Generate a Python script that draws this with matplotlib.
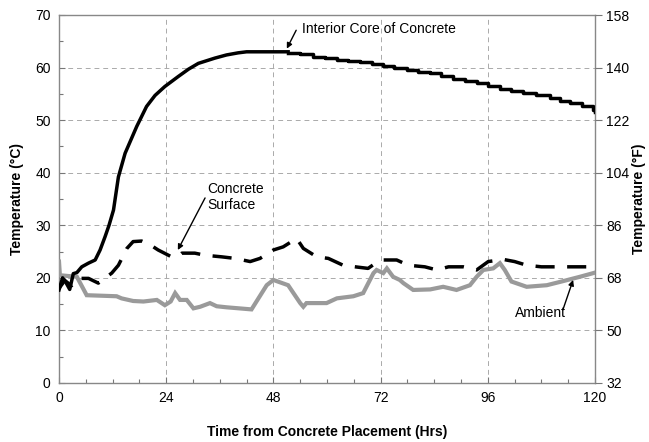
import matplotlib
matplotlib.use("Agg")
import matplotlib.pyplot as plt
from matplotlib.ticker import MultipleLocator

plt.rcParams['font.family'] = ['Liberation Sans', 'DejaVu Sans']

# ---- data ----
core_rise_hours = [0, 0.8, 1.5, 2.4, 3.2, 4.0, 5.1, 6.6, 8.1, 9.2, 10.3, 11.2, 12.2,
                   13.3, 14.8, 17.4, 19.6, 21.5, 23.7, 26.7, 29.0, 31.2, 34.9, 37.5,
                   40.1, 42.0, 51.3]
core_rise_temp = [17.7, 20.0, 19.2, 17.8, 20.8, 21.0, 22.1, 22.8, 23.4, 25.3, 27.8, 30.0,
                  32.9, 39.2, 43.7, 48.8, 52.6, 54.7, 56.4, 58.3, 59.7, 60.8, 61.8, 62.4,
                  62.8, 63.0, 63.0]
core_step_hours = [51.3, 54.0, 56.9, 59.5, 62.2, 64.8, 67.4, 70.0, 72.5, 75.0, 77.8, 80.4,
                   83.0, 85.6, 88.2, 90.8, 93.5, 96.0, 98.7, 101.3, 103.9, 106.8, 110.0,
                   112.2, 114.4, 117.0, 119.5, 120.0]
core_step_temp = [62.8, 62.5, 62.1, 61.8, 61.4, 61.2, 61.0, 60.6, 60.3, 59.9, 59.5, 59.2,
                  58.9, 58.4, 57.9, 57.5, 57.0, 56.5, 56.0, 55.6, 55.1, 54.7, 54.2,
                  53.7, 53.2, 52.6, 51.9, 51.6]

surf_hours = [0, 1.3, 2.8, 4.3, 6.6, 8.8, 11.8, 13.3, 15.2, 16.6, 18.5, 20.4, 22.2, 25.2,
              26.5, 27.5, 30.4, 32.7, 36.4, 39.4, 42.8, 45.0, 48.0, 50.2, 53.2, 54.7, 57.7,
              60.3, 63.6, 66.3, 69.2, 71.9, 75.6, 78.2, 81.9, 84.6, 87.2, 90.5, 93.5, 96.1,
              99.5, 102.0, 104.7, 108.0, 112.0, 114.4, 120.0]
surf_temp = [18.0, 19.5, 18.5, 19.9, 19.9, 19.0, 20.9, 22.4, 25.6, 26.9, 27.0, 26.3, 25.3,
             24.0, 24.0, 24.7, 24.7, 24.3, 24.0, 23.7, 23.1, 23.7, 25.3, 25.9, 27.5, 25.6,
             24.0, 23.7, 22.4, 22.1, 21.8, 23.4, 23.4, 22.4, 22.1, 21.5, 22.1, 22.1, 21.5,
             23.1, 23.5, 23.1, 22.4, 22.1, 22.1, 22.1, 22.1]

amb_hours = [0, 0.2, 4.0, 6.2, 12.9, 14.0, 16.6, 18.9, 21.9, 23.7, 25.0, 26.0, 27.1, 28.6,
             30.1, 31.6, 33.8, 35.3, 37.5, 43.1, 46.5, 48.0, 51.3, 54.0, 54.7, 55.4, 59.9,
             62.2, 65.9, 68.1, 70.4, 71.1, 72.6, 73.4, 74.8, 76.3, 77.1, 79.3, 83.1, 86.0,
             89.0, 92.0, 93.5, 95.0, 97.2, 98.7, 99.8, 101.3, 104.7, 109.2, 112.5, 116.6,
             119.6, 120.0]
amb_temp = [23.1, 20.5, 20.2, 16.7, 16.5, 16.1, 15.6, 15.5, 15.8, 14.8, 15.5, 17.1, 15.8,
            15.8, 14.2, 14.5, 15.2, 14.6, 14.4, 14.0, 18.6, 19.6, 18.6, 15.2, 14.5, 15.2,
            15.2, 16.1, 16.5, 17.1, 20.9, 21.5, 20.9, 21.8, 20.2, 19.6, 19.0, 17.7, 17.8,
            18.3, 17.7, 18.6, 20.2, 21.5, 21.8, 22.8, 21.5, 19.3, 18.3, 18.6, 19.3, 20.2,
            20.9, 21.0]

x_ticks = [0, 24, 48, 72, 96, 120]
c_ticks = [0, 10, 20, 30, 40, 50, 60, 70]
f_ticks = [32, 50, 68, 86, 104, 122, 140, 158]

# ---- figure ----
W, H = 649, 442
fig = plt.figure(figsize=(W / 100, H / 100), dpi=100)
ax = fig.add_axes([59 / W, 1 - 383 / H, (595 - 59) / W, (383 - 15) / H])

ax.plot(amb_hours, amb_temp, color='#9a9a9a', lw=3.0, zorder=3, solid_joinstyle='miter')
ax.plot(surf_hours, surf_temp, color='black', lw=2.5, dashes=(5.5, 3.6), zorder=4)
ax.plot(core_rise_hours, core_rise_temp, color='black', lw=2.5, zorder=5)
ax.plot(core_step_hours, core_step_temp, color='black', lw=2.5, drawstyle='steps-post', zorder=5)

ax.set_xlim(0, 120)
ax.set_ylim(0, 70)
ax.set_xticks(x_ticks)
ax.set_yticks(c_ticks)
ax.xaxis.set_minor_locator(MultipleLocator(6))
ax.yaxis.set_minor_locator(MultipleLocator(5))
ax.tick_params(axis='both', which='major', direction='in', length=4, width=0.8,
               color='#777777', labelsize=10, pad=6)
ax.tick_params(axis='both', which='minor', direction='in', length=3, width=0.8,
               color='#777777')
ax.grid(True, which='major', color='#aaaaaa', lw=0.7, dashes=(5, 4))
for s in ax.spines.values():
    s.set_color('#888888')
    s.set_linewidth(1.0)

ax.set_xlabel('Time from Concrete Placement (Hrs)', fontsize=10, fontweight='bold', labelpad=14)
ax.set_ylabel('Temperature (\u00b0C)', fontsize=10, fontweight='bold', labelpad=8)

ax2 = ax.twinx()
ax2.set_ylim(32, 158)
ax2.set_yticks(f_ticks)
ax2.tick_params(axis='y', direction='out', length=5, width=0.8, color='#777777',
                labelsize=10, pad=3)
for s in ax2.spines.values():
    s.set_visible(False)
ax2.set_ylabel('Temperature (\u00b0F)', fontsize=10, fontweight='bold', labelpad=2)

arrow = dict(arrowstyle='-|>', color='black', lw=1.0, mutation_scale=8, shrinkA=0, shrinkB=0)
ax.text(54.4, 67.3, 'Interior Core of Concrete', fontsize=10, ha='left', va='center')
ax.annotate('', xy=(51.0, 63.6), xytext=(53.1, 67.1), arrowprops=arrow)
ax.text(33.1, 35.4, 'Concrete\nSurface', fontsize=10, ha='left', va='center', linespacing=1.15)
ax.annotate('', xy=(26.6, 25.3), xytext=(32.7, 35.2), arrowprops=arrow)
ax.text(102.1, 13.3, 'Ambient', fontsize=10, ha='left', va='center')
ax.annotate('', xy=(115.1, 19.6), xytext=(112.8, 13.9), arrowprops=arrow)

fig.savefig('out.png', dpi=100)
